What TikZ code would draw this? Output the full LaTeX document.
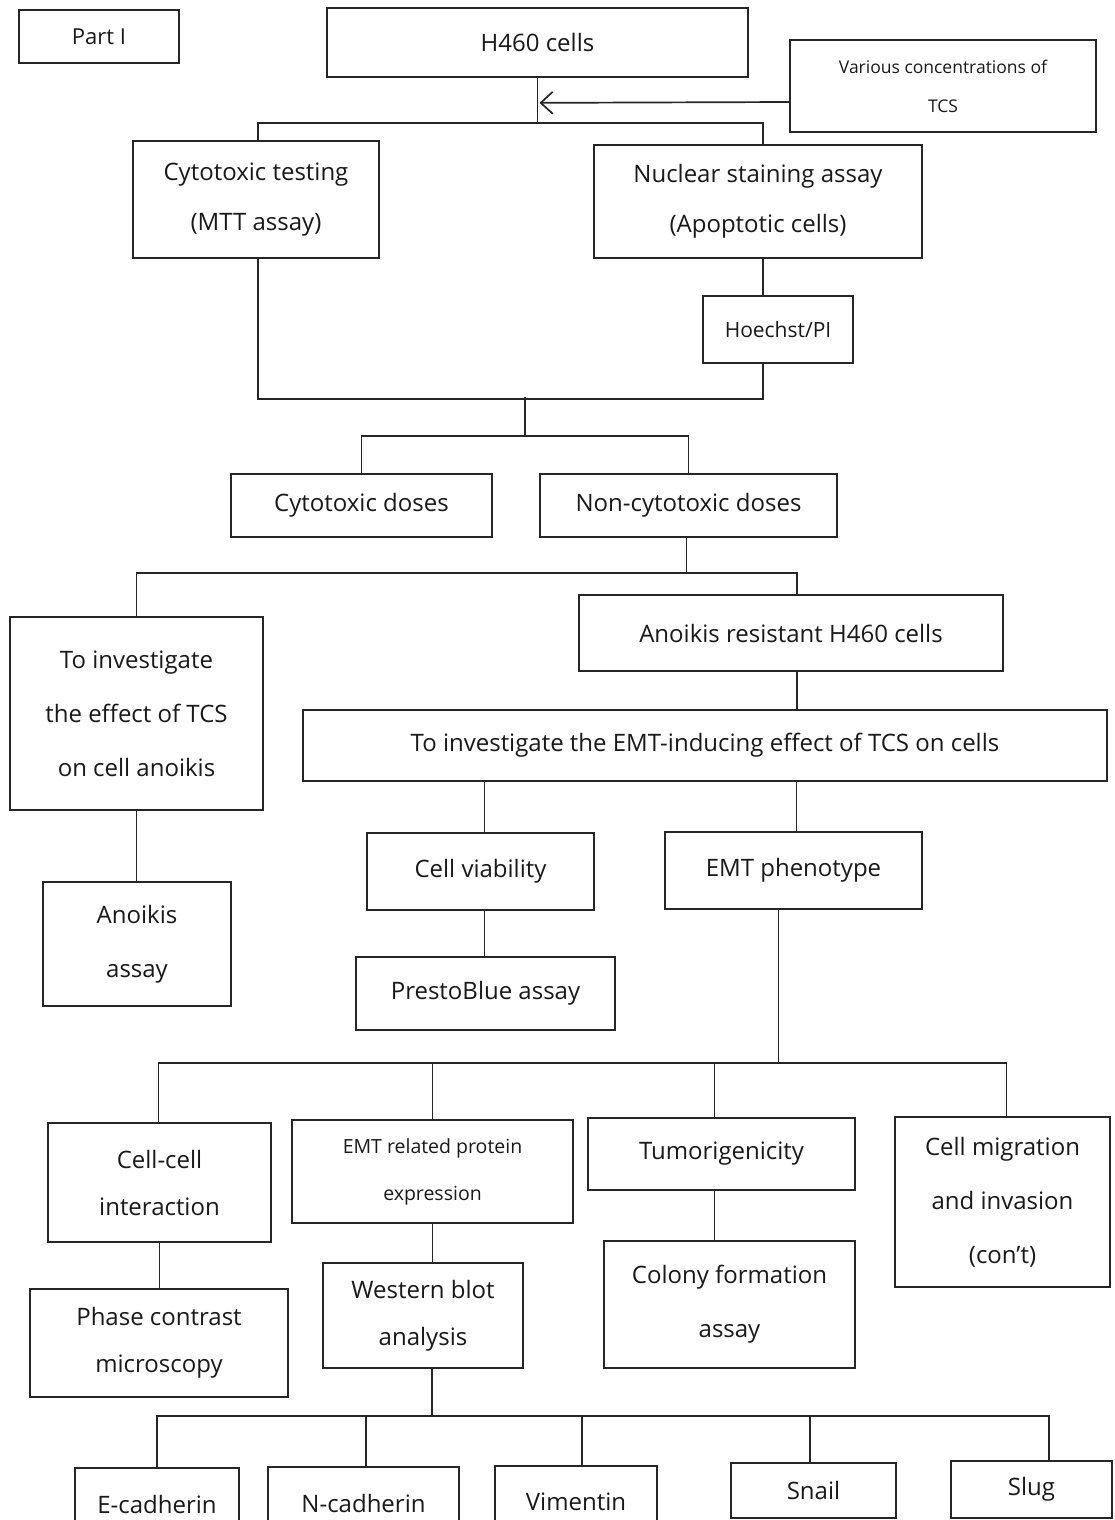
\documentclass[tikz,border=0pt]{standalone}
\usepackage{fontspec}
\setmainfont{Open Sans}
\usetikzlibrary{arrows.meta,calc}
\begin{document}
\begin{tikzpicture}[x=1pt,y=-1pt,
  box/.style={draw=black!85,line width=1.7pt,inner sep=0pt,align=center,text=black!90,
    font=\fontsize{24}{50}\selectfont},
  ln/.style={draw=black!85,line width=1.7pt},
  wide/.style={font=\fontsize{24}{54}\selectfont},
  tight/.style={font=\fontsize{24}{47}\selectfont}]
\useasboundingbox (0,0) rectangle (1114,1520);
\fill[white] (0,0) rectangle (1114,1520);
\clip (0,0) rectangle (1114,1520);
% nodes
\node[box,minimum width=160,minimum height=53,font=\fontsize{22}{26}\selectfont] (part) at (99,36.5) {Part I};
\node[box,minimum width=421,minimum height=69] (h460) at (537.5,42.5) {H460 cells};
\node[box,minimum width=306,minimum height=92,font=\fontsize{17.5}{39}\selectfont] (tcs) at (943,86) {Various concentrations of\\TCS};
\node[box,minimum width=246,minimum height=117] (cyto) at (256,199.5) {Cytotoxic testing\\(MTT assay)};
\node[box,minimum width=328,minimum height=113] (nuc) at (758,201.5) {Nuclear staining assay\\(Apoptotic cells)};
\node[box,minimum width=150,minimum height=67,font=\fontsize{21}{26}\selectfont] (hoe) at (778,329.5) {Hoechst/PI};
\node[box,minimum width=261,minimum height=63] (cd) at (361.5,505.5) {Cytotoxic doses};
\node[box,minimum width=297,minimum height=63] (ncd) at (688.5,505.5) {Non-cytotoxic doses};
\node[box,wide,minimum width=253,minimum height=193] (inv) at (136.5,713.5) {To investigate\\the effect of TCS\\on cell anoikis};
\node[box,minimum width=424,minimum height=76] (ar) at (791,633) {Anoikis resistant H460 cells};
\node[box,minimum width=804,minimum height=71] (emt) at (705,745.5) {To investigate the EMT-inducing effect of TCS on cells};
\node[box,minimum width=227,minimum height=77] (cv) at (480.5,871.5) {Cell viability};
\node[box,minimum width=257,minimum height=77] (ep) at (793.5,870.5) {EMT phenotype};
\node[box,minimum width=259,minimum height=73] (pb) at (485.5,993.5) {PrestoBlue assay};
\node[box,wide,minimum width=188,minimum height=124] (aa) at (137,944) {Anoikis\\assay};
\node[box,tight,minimum width=223,minimum height=119] (cc) at (159.5,1182.5) {Cell-cell\\interaction};
\node[box,minimum width=281,minimum height=103,font=\fontsize{19.5}{47}\selectfont] (erp) at (432.5,1171.5) {EMT related protein\\expression};
\node[box,minimum width=267,minimum height=72] (tum) at (721.5,1154) {Tumorigenicity};
\node[box,wide,minimum width=215,minimum height=170] (cm) at (1002.5,1202) {Cell migration\\and invasion\\(con't)};
\node[box,tight,minimum width=258,minimum height=108] (pc) at (159,1343) {Phase contrast\\microscopy};
\node[box,tight,minimum width=200,minimum height=105] (wb) at (423,1315.5) {Western blot\\analysis};
\node[box,wide,minimum width=251,minimum height=127] (cf) at (729.5,1304.5) {Colony formation\\assay};
\node[box,minimum width=164,minimum height=72] (ec) at (157,1504) {E-cadherin};
\node[box,minimum width=191,minimum height=72] (nc) at (363.5,1503) {N-cadherin};
\node[box,minimum width=162,minimum height=72] (vi) at (576,1502) {Vimentin};
\node[box,minimum width=165,minimum height=55] (sn) at (813.5,1490.5) {Snail};
\node[box,minimum width=161,minimum height=57] (sl) at (1031.5,1489.5) {Slug};
% connectors
\coordinate (j1) at ($(h460.south)+(0,45)$);
\draw[ln] (h460.south) -- (j1);
\draw[ln,-{Straight Barb[length=12pt,width=22pt,line width=1.7pt]}] ($(tcs.west)+(0,16)$) -- ($(h460.south)+(2,25)$);
\draw[ln] ([xshift=2pt]cyto.north) |- (j1) -| ([xshift=5pt]nuc.north);
\draw[ln] ([xshift=5pt]nuc.south) -- ([xshift=-15pt]hoe.north);
\draw[ln] ([xshift=-15pt]hoe.south) -- ++(0,35) coordinate (j2h) -| ([xshift=2pt]cyto.south);
\coordinate (j2) at ($(cd.north)!0.5!(ncd.north)+(0,-76)$);
\coordinate (j3) at ($(cd.north)!0.5!(ncd.north)+(0,-37)$);
\draw[ln] (j2) -- (j3);
\draw[ln] (cd.north) |- (j3) -| (ncd.north);
\coordinate (j4) at ($(ncd.south)+(-2,35)$);
\draw[ln] ([xshift=-2pt]ncd.south) -- (j4);
\draw[ln] (inv.north) |- (j4) -| ([xshift=6pt]ar.north);
\coordinate (p) at ([xshift=6pt]ar.south);
\draw[ln] (p) -- (p |- emt.north);
\coordinate (p2) at ([xshift=4pt]cv.north);
\draw[ln] (p2) -- (p2 |- emt.south);
\coordinate (p3) at ([xshift=3pt]ep.north);
\draw[ln] (p3) -- (p3 |- emt.south);
\coordinate (p4) at ([xshift=4pt]cv.south);
\draw[ln] (p4) -- (p4 |- pb.north);
\draw[ln] (inv.south) -- (inv.south |- aa.north);
\coordinate (q) at ([xshift=-15pt]ep.south);
\coordinate (j5) at ($(q)+(0,153)$);
\draw[ln] (q) -- (j5);
\draw[ln] ([xshift=-1pt]cc.north) |- (j5) -| ([xshift=4pt]cm.north);
\draw[ln] (erp.north) -- (erp.north |- j5);
\coordinate (q2) at ([xshift=-7pt]tum.north);
\draw[ln] (q2) -- (q2 |- j5);
\draw[ln] (cc.south) -- (cc.south |- pc.north);
\draw[ln] (erp.south) -- (erp.south |- wb.north);
\coordinate (q3) at ([xshift=-7pt]tum.south);
\draw[ln] (q3) -- (q3 |- cf.north);
\coordinate (r) at ([xshift=9pt]wb.south);
\coordinate (j6) at ($(r)+(0,47)$);
\draw[ln] (r) -- (j6);
\coordinate (s5) at ([xshift=17.5pt]sl.north);
\draw[ln] (ec.north) |- (j6) -| (s5);
\coordinate (s2) at ([xshift=2.5pt]nc.north);
\draw[ln] (s2) -- (s2 |- j6);
\coordinate (s3) at ([xshift=6pt]vi.north);
\draw[ln] (s3) -- (s3 |- j6);
\coordinate (s4) at ([xshift=-3.5pt]sn.north);
\draw[ln] (s4) -- (s4 |- j6);
\end{tikzpicture}
\end{document}
